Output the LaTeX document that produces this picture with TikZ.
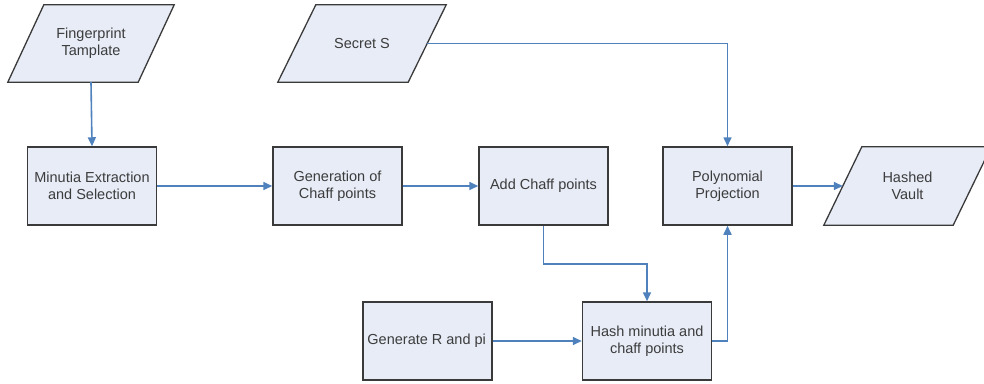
\documentclass[tikz,border=0pt]{standalone}
\usepackage{fontspec}
\setmainfont{Liberation Sans}
\usetikzlibrary{arrows.meta,calc,backgrounds}
\definecolor{boxfill}{RGB}{231,236,247}
\definecolor{boxline}{RGB}{58,58,58}
\definecolor{arr}{RGB}{79,129,189}
\definecolor{txtc}{RGB}{60,60,60}
\begin{document}
\begin{tikzpicture}[x=1pt,y=-1pt,
  txt/.style={font=\fontsize{14.5}{17}\selectfont, text=txtc, align=center},
  proc/.style={txt, draw=boxline, fill=boxfill, line width=1.5pt, minimum width=129pt, minimum height=78pt, inner sep=0pt},
  io/.style={txt, minimum width=130pt, minimum height=77pt, inner sep=0pt},
  ioshape/.style={draw=boxline, fill=boxfill, line width=1.3pt},
  conn/.style={draw=arr, line width=1.6pt, -{Triangle[length=9pt,width=8pt]}}
]
\useasboundingbox (0,0) rectangle (984,383);

\node[io] (fp) at (91,43.5) {Fingerprint\\Tamplate};
\node[io] (secret) at (362,43.5) {Secret S};
\node[io, minimum width=129pt, minimum height=78pt] (vault) at (907.5,186) {Hashed\\Vault};

\node[proc] (minutia) at (92,186) {Minutia Extraction\\and Selection};
\node[proc] (gen) at (337.5,186) {Generation of\\Chaff points};
\node[proc] (add) at (543.5,186) {Add Chaff points};
\node[proc] (poly) at (727.5,186) {Polynomial\\Projection};

\node[proc] (genR) at (427.5,341) {};
\begin{scope}
  \clip ($(genR.north west)+(1,1)$) rectangle ($(genR.south east)+(-6.5,-1)$);
  \node[txt, anchor=west, inner sep=0pt] (genRtxt) at ($(genR.west)+(5,0)$) {Generate R and pi};
\end{scope}
\node[proc] (hash) at (647,341) {Hash minutia and\\chaff points};

\begin{scope}[on background layer]
  \foreach \n/\s in {fp/18, secret/19, vault/19}
    \path[ioshape] ($(\n.north west)+(\s,0)$) -- ($(\n.north east)+(\s,0)$)
      -- ($(\n.south east)+(-\s,0)$) -- ($(\n.south west)+(-\s,0)$) -- cycle;
\end{scope}

\draw[conn] (fp.south) -- (minutia.north);
\draw[conn] (minutia.east) -- (gen.west);
\draw[conn] (gen.east) -- (add.west);
\draw[conn] (add.south) -- ++(0,38) -| (hash.north);
\draw[conn] (genR.east) -- (hash.west);
\draw[conn] (hash.east) -| (poly.south);
\draw[conn] (secret.east) -| (poly.north);
\draw[conn] (poly.east) -- (vault.west);
\end{tikzpicture}
\end{document}
